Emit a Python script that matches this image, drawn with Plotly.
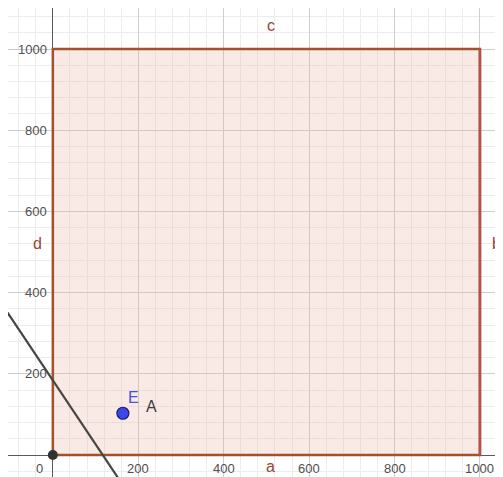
import numpy as np
import plotly.graph_objects as go

# Data
tick_vals = [200, 400, 600, 800, 1000]
tick_labels = ["200", "400", "600", "800", "1000"]
rect_x = [0, 1000, 1000, 0, 0]
rect_y = [0, 0, 1000, 1000, 0]
side_names = ["a", "b", "c", "d"]
side_label_x = [510, 1039, 510, -37]
side_label_y = [-27, 520, 1059, 520]
point_E = (164, 103)
origin_pt = (0, 0)
line_x_intercept = 117
line_y_intercept = 184

# page has an 8px body margin, so the figure is slightly smaller than the window
X_RANGE = [-105, 1054]
Y_RANGE = [-54, 1101]

BROWN = "rgb(160,82,45)"
fig = go.Figure()

# Polygon (filled square)
fig.add_trace(go.Scatter(x=rect_x, y=rect_y, mode="lines", fill="toself",
                         fillcolor="rgba(235,185,170,0.30)",
                         line=dict(color=BROWN, width=2.5), hoverinfo="skip"))
# right side slightly redder
fig.add_trace(go.Scatter(x=rect_x[1:3], y=rect_y[1:3], mode="lines",
                         line=dict(color="rgb(180,80,75)", width=2.5), hoverinfo="skip"))

# Line through intercepts, extended across view
slope = -line_y_intercept / line_x_intercept
lx = np.array([X_RANGE[0] - 80, X_RANGE[1]])
ly = line_y_intercept + slope * lx
fig.add_trace(go.Scatter(x=lx, y=ly, mode="lines",
                         line=dict(color="rgb(70,70,70)", width=2.2), hoverinfo="skip"))

# Points
fig.add_trace(go.Scatter(x=[origin_pt[0]], y=[origin_pt[1]], mode="markers",
                         marker=dict(size=10, color="rgb(50,50,50)"), hoverinfo="skip"))
fig.add_trace(go.Scatter(x=[point_E[0]], y=[point_E[1]], mode="markers",
                         marker=dict(size=12, color="rgb(60,70,230)",
                                     line=dict(color="rgb(30,30,120)", width=1.2)),
                         hoverinfo="skip"))

annotations = []
font_tick = dict(family="Liberation Sans, Arial, sans-serif", size=13, color="rgb(80,80,80)")
for v, t in zip(tick_vals, tick_labels):
    annotations.append(dict(x=v, y=0, text=t, showarrow=False, yshift=-13, font=font_tick,
                            xanchor="center", yanchor="middle"))
    annotations.append(dict(x=0, y=v, text=t, showarrow=False, xshift=-4, font=font_tick,
                            xanchor="right", yanchor="middle"))
annotations.append(dict(x=0, y=0, text="0", showarrow=False, xshift=-13, yshift=-13,
                        font=font_tick, xanchor="center", yanchor="middle"))

font_side = dict(family="Liberation Sans, Arial, sans-serif", size=16, color="rgb(150,70,45)")
for n, sx, sy in zip(side_names, side_label_x, side_label_y):
    annotations.append(dict(x=sx, y=sy, text=n, showarrow=False, font=font_side,
                            xanchor="center", yanchor="middle"))

annotations.append(dict(x=point_E[0], y=point_E[1], text="E", showarrow=False,
                        xshift=11, yshift=16, font=dict(family="Liberation Sans, Arial, sans-serif",
                                                         size=16, color="rgb(70,80,220)")))
annotations.append(dict(x=point_E[0], y=point_E[1], text="A", showarrow=False,
                        xshift=29, yshift=7, font=dict(family="Liberation Sans, Arial, sans-serif",
                                                        size=16, color="rgb(60,60,60)")))

axis_common = dict(showticklabels=False, ticks="", showline=False,
                   gridcolor="rgb(205,205,205)", gridwidth=1,
                   zeroline=True, zerolinecolor="rgb(90,90,90)", zerolinewidth=1.3,
                   minor=dict(dtick=40, showgrid=True, gridcolor="rgb(236,236,236)", gridwidth=1),
                   dtick=200, tick0=0, fixedrange=True)

fig.update_layout(
    width=495, height=469,
    margin=dict(l=0, r=0, t=0, b=0),
    paper_bgcolor="white", plot_bgcolor="white",
    showlegend=False,
    xaxis=dict(range=X_RANGE, **axis_common),
    yaxis=dict(range=Y_RANGE, **axis_common),
    annotations=annotations,
)
fig.write_html("out.html")
